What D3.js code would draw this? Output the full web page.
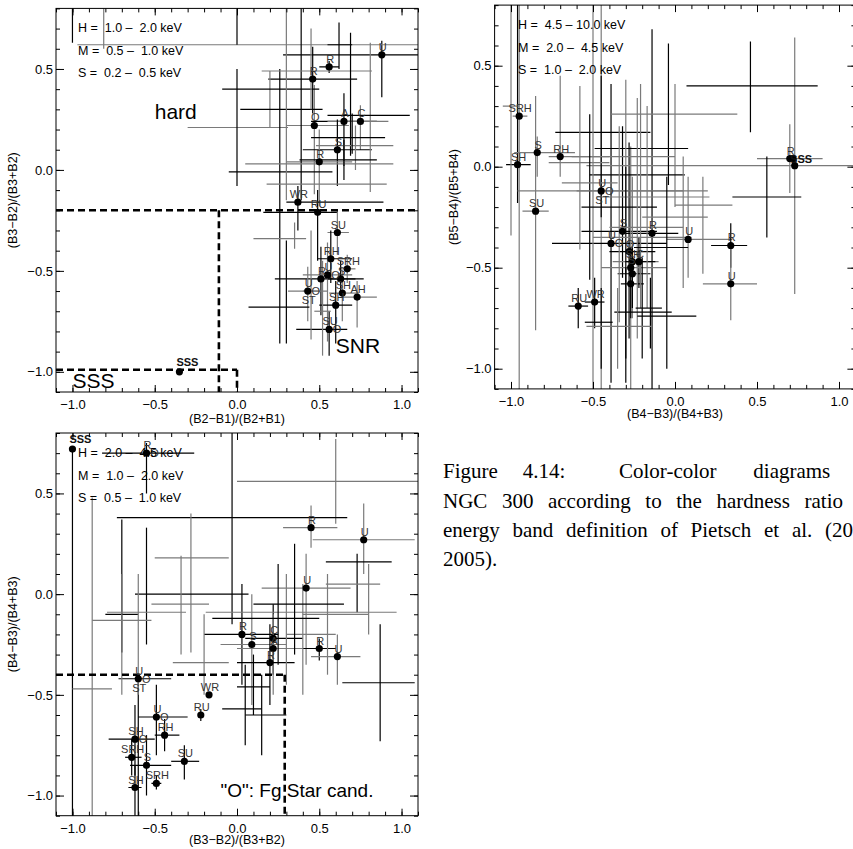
<!DOCTYPE html>
<html><head><meta charset="utf-8">
<script src="https://cdnjs.cloudflare.com/ajax/libs/d3/7.8.5/d3.min.js"></script>
<style>body{margin:0;background:#fff}svg{display:block}</style>
</head><body>
<svg id="c" width="853" height="849"></svg>
<script>
// ---------------- data ----------------
const xMajorTicks = [-1.0, -0.5, 0.0, 0.5, 1.0];
const yMajorTicks = [-1.0, -0.5, 0.0, 0.5];
const xDomain = [-1.1, 1.1];
const yDomain = [-1.1, 0.8];

const xTitles = ["(B2\u2212B1)/(B2+B1)", "(B4\u2212B3)/(B4+B3)", "(B3\u2212B2)/(B3+B2)"];
const yTitles = ["(B3\u2212B2)/(B3+B2)", "(B5\u2212B4)/(B5+B4)", "(B4\u2212B3)/(B4+B3)"];

const legend1 = ["H =  1.0 \u2013  2.0 keV", "M =  0.5 \u2013  1.0 keV", "S =  0.2 \u2013  0.5 keV"];
const legend2 = ["H =  4.5 \u2013 10.0 keV", "M =  2.0 \u2013  4.5 keV", "S =  1.0 \u2013  2.0 keV"];
const legend3 = ["H =  2.0 \u2013  4.5 keV", "M =  1.0 \u2013  2.0 keV", "S =  0.5 \u2013  1.0 keV"];

// cx, cy, xlo, xhi, ylo, yhi, grey, dot, label (above|right|below)
const panel1Points = [
  [0.88, 0.57, 0.28, 1.20, 0.36, 0.64, 0, 1, "U"],
  [0.56, 0.51, 0.50, 0.62, 0.48, 0.54, 0, 1, "R"],
  [0.46, 0.45, 0.19, 0.73, 0.28, 0.61, 0, 1, "R"],
  [0.47, 0.22, 0.30, 0.68, -0.12, 0.42, 1, 1, "O"],
  [0.65, 0.24, 0.45, 0.85, 0.02, 0.38, 0, 1, "A"],
  [0.75, 0.24, 0.55, 0.92, 0.10, 0.32, 1, 1, "C"],
  [0.61, 0.10, 0.40, 0.82, -0.08, 0.25, 0, 1, "S"],
  [0.50, 0.04, 0.30, 0.70, -0.18, 0.20, 1, 1, "R"],
  [0.37, -0.16, 0.30, 0.89, -0.30, -0.08, 0, 1, "WR"],
  [0.49, -0.21, 0.16, 0.61, -0.45, -0.10, 0, 1, "RU"],
  [0.61, -0.31, 0.55, 0.68, -0.42, -0.20, 1, 1, "SU"],
  [0.57, -0.44, 0.49, 0.70, -0.56, -0.30, 0, 1, "RH"],
  [0.67, -0.49, 0.62, 0.72, -0.56, -0.42, 1, 1, "SRH"],
  [0.51, -0.54, 0.23, 0.77, -0.72, -0.38, 0, 1, "R"],
  [0.55, -0.52, 0.40, 0.70, -0.85, -0.36, 1, 1, "U|O"],
  [0.63, -0.54, 0.55, 0.72, -0.62, -0.45, 0, 1, "S"],
  [0.64, -0.61, 0.56, 0.74, -0.75, -0.50, 1, 1, "SH"],
  [0.73, -0.63, 0.63, 0.85, -0.78, -0.55, 1, 1, "AH"],
  [0.43, -0.60, 0.31, 0.55, -0.75, -0.48, 1, 1, "U|O|ST"],
  [0.60, -0.67, 0.50, 0.70, -0.86, -0.55, 0, 1, "SH"],
  [0.56, -0.79, 0.36, 0.67, -0.92, -0.70, 0, 1, "SU|O"],
  [-0.35, -1.00, -0.35, -0.35, -1.00, -1.00, 0, 1, "SSS"],
  [-0.81, 0.62, -0.97, 1.20, 0.60, 0.90, 1, 0, ""],
  [-1.00, 0.95, -1.20, -0.80, 0.63, 1.20, 0, 0, ""],
  [0.00, 0.95, -0.50, 0.50, 0.62, 1.20, 0, 0, ""],
  [0.20, 0.21, -0.30, 0.31, 0.21, 0.49, 1, 0, ""],
  [0.26, 0.30, 0.02, 0.52, -0.86, 0.50, 0, 0, ""],
  [0.39, 0.40, -0.09, 0.50, -0.15, 0.85, 0, 0, ""],
  [0.45, 0.49, 0.15, 0.82, 0.30, 0.70, 1, 0, ""],
  [0.00, -0.01, -0.05, 0.58, -0.08, 0.50, 0, 0, ""],
  [0.30, 0.03, 0.05, 0.95, -0.15, 0.85, 1, 0, ""],
  [0.81, -0.07, 0.18, 0.91, -0.11, 0.63, 1, 0, ""],
  [0.69, 0.27, 0.55, 1.05, 0.07, 0.68, 0, 0, ""],
  [0.62, 0.62, 0.55, 0.70, 0.50, 0.73, 0, 0, ""],
  [0.35, -0.34, 0.10, 0.42, -0.39, -0.26, 1, 0, ""],
  [0.30, -0.68, 0.07, 0.44, -0.86, -0.35, 0, 0, ""],
  [0.45, -0.60, 0.40, 0.50, -0.84, -0.30, 1, 0, ""],
  [0.52, -0.70, 0.47, 0.57, -0.92, -0.45, 1, 0, ""],
  [0.72, 0.12, 0.48, 0.95, 0.00, 0.22, 1, 0, ""],
  [0.65, 0.05, 0.38, 0.85, -0.05, 0.15, 0, 0, ""],
  [0.70, 0.16, 0.45, 0.90, 0.08, 0.28, 0, 0, ""]
];

const panel2Points = [
  [-0.95, 0.25, -0.99, -0.90, -1.20, 1.20, 1, 1, "SRH"],
  [-0.96, 0.01, -1.03, -0.88, -0.18, 1.20, 0, 1, "SH"],
  [-0.84, 0.07, -0.98, -0.61, -0.05, 0.15, 1, 1, "S"],
  [-0.70, 0.05, -0.77, -0.40, -0.05, 0.45, 1, 1, "RH"],
  [-0.45, -0.12, -0.96, 0.05, -1.20, 1.20, 1, 1, "U|O|ST"],
  [-0.85, -0.22, -0.93, -0.77, -0.81, 0.35, 1, 1, "SU"],
  [-0.32, -0.32, -0.57, -0.11, -0.55, 0.20, 0, 1, "S"],
  [-0.14, -0.33, -0.30, 0.02, -1.20, 0.68, 0, 1, "R"],
  [0.08, -0.36, -0.05, 0.35, -0.55, -0.05, 1, 1, "U"],
  [0.34, -0.39, 0.22, 0.44, -0.50, -0.28, 0, 1, "R"],
  [0.34, -0.58, 0.17, 0.50, -0.76, -0.38, 1, 1, "U"],
  [-0.39, -0.38, -0.75, -0.05, -1.07, 0.41, 0, 1, "U|O"],
  [-0.59, -0.69, -0.65, -0.53, -0.80, -0.60, 0, 1, "RU"],
  [-0.49, -0.67, -0.55, -0.43, -0.80, -0.55, 0, 1, "WR"],
  [-0.28, -0.42, -0.40, -0.12, -0.85, 0.12, 0, 1, "O"],
  [-0.26, -0.47, -0.38, -0.10, -0.75, -0.05, 1, 1, "SH"],
  [-0.22, -0.47, -0.30, -0.12, -0.60, -0.35, 0, 1, "C"],
  [-0.27, -0.50, -0.45, -0.05, -1.20, 0.10, 1, 1, "S"],
  [-0.26, -0.53, -0.35, -0.15, -0.70, -0.40, 0, 1, ""],
  [-0.27, -0.58, -0.33, -0.19, -0.75, -0.40, 0, 1, ""],
  [0.70, 0.04, 0.50, 0.90, -0.13, 0.21, 1, 1, "R"],
  [0.72, 0.04, 0.72, 0.72, 0.04, 0.04, 0, 1, "SSS"],
  [0.73, 0.005, -0.54, 1.20, -0.63, 0.64, 1, 1, ""],
  [0.46, 0.40, 0.07, 0.87, 0.17, 0.62, 0, 0, ""],
  [0.56, -0.15, 0.35, 0.77, -0.35, 0.05, 0, 0, ""],
  [0.00, 0.26, -0.39, 0.38, -0.20, 0.41, 1, 0, ""],
  [-0.45, 0.17, -0.73, -0.15, -0.25, 0.45, 0, 0, ""],
  [-0.04, 0.09, -0.49, 0.08, -0.09, 0.61, 0, 0, ""],
  [-0.30, 0.05, -0.63, 0.00, -0.30, 0.43, 1, 0, ""],
  [-0.58, 0.02, -0.77, -0.40, -0.41, 0.40, 1, 0, ""],
  [-0.52, -0.04, -0.52, 0.06, -0.56, 0.26, 0, 0, ""],
  [-0.50, -0.08, -0.69, -0.35, -1.20, 1.20, 1, 0, ""],
  [-0.34, -0.12, -0.60, 0.20, -0.77, 0.20, 1, 0, ""],
  [-0.17, -0.15, -0.48, 0.21, -0.70, 0.30, 1, 0, ""],
  [-0.30, -0.20, -0.57, -0.11, -1.07, 0.00, 0, 0, ""],
  [0.05, -0.25, -0.20, 0.20, -0.60, 0.05, 1, 0, ""],
  [-0.21, -0.30, -0.40, 0.05, -0.70, 0.41, 1, 0, ""],
  [-0.23, -0.35, -0.50, 0.10, -0.85, 0.34, 1, 0, ""],
  [-0.05, -0.40, -0.25, 0.08, -1.00, -0.05, 0, 0, ""],
  [0.17, -0.19, 0.00, 0.35, -0.53, -0.05, 1, 0, ""],
  [-0.20, -0.70, -0.24, -0.08, -0.95, -0.45, 0, 0, ""],
  [-0.30, -0.72, -0.37, -0.02, -0.95, -0.50, 0, 0, ""],
  [-0.15, -0.74, -0.23, 0.13, -0.90, -0.55, 0, 0, ""],
  [-0.45, -0.77, -0.55, -0.38, -1.00, -0.60, 0, 0, ""],
  [-0.35, -0.79, -0.54, -0.14, -1.00, -0.60, 1, 0, ""],
  [-1.00, 0.30, -1.05, -0.95, -0.34, 1.20, 1, 0, ""]
];

const panel3Points = [
  [-1.00, 0.72, -1.00, -1.00, -1.20, 0.72, 0, 1, "SSS"],
  [-0.55, 0.70, -0.82, -0.26, 0.50, 0.75, 0, 1, "R|O"],
  [0.45, 0.33, 0.28, 0.61, 0.23, 0.44, 1, 1, "R"],
  [0.77, 0.27, 0.46, 1.08, 0.10, 0.45, 1, 1, "U"],
  [0.42, 0.03, 0.15, 0.69, -0.35, 0.20, 1, 1, "U"],
  [0.03, -0.20, -0.20, 0.25, -0.45, 0.05, 0, 1, "R"],
  [0.09, -0.25, -0.10, 0.30, -0.55, 0.00, 1, 1, "S"],
  [0.22, -0.22, 0.05, 0.40, -0.40, -0.05, 0, 1, "C"],
  [0.22, -0.27, 0.00, 0.45, -0.50, -0.10, 1, 1, "A"],
  [0.20, -0.34, 0.00, 0.35, -0.55, -0.15, 0, 1, "R"],
  [0.50, -0.27, 0.40, 0.60, -0.33, -0.22, 0, 1, "R"],
  [0.61, -0.31, 0.45, 0.75, -0.45, -0.20, 1, 1, "U"],
  [-0.60, -0.42, -0.72, -0.40, -1.20, -0.40, 0, 1, "U|O|ST"],
  [-0.17, -0.50, -0.17, -0.17, -0.50, -0.50, 0, 1, "WR"],
  [-0.22, -0.60, -0.23, -0.21, -0.63, -0.57, 0, 1, "RU"],
  [-0.49, -0.61, -0.60, -0.30, -0.80, -0.45, 0, 1, "U|O"],
  [-0.44, -0.70, -0.50, -0.35, -0.78, -0.62, 0, 1, "RH"],
  [-0.62, -0.72, -0.78, -0.50, -0.90, -0.55, 0, 1, "SH|O"],
  [-0.64, -0.81, -0.68, -0.58, -0.90, -0.72, 0, 1, "SRH"],
  [-0.55, -0.85, -0.65, -0.40, -1.00, -0.70, 0, 1, "S"],
  [-0.32, -0.83, -0.40, -0.23, -0.92, -0.75, 0, 1, "SU"],
  [-0.49, -0.94, -0.52, -0.46, -0.97, -0.90, 0, 1, "SRH"],
  [-0.62, -0.96, -0.66, -0.58, -1.10, -0.85, 0, 1, "SH"],
  [0.60, 0.56, 0.00, 1.20, 0.35, 0.77, 1, 0, ""],
  [-0.03, 0.38, -0.73, 0.67, -0.15, 0.85, 0, 0, ""],
  [-0.28, 0.18, -0.50, -0.05, -0.29, 0.40, 1, 0, ""],
  [-0.70, -0.10, -0.80, -0.60, -0.29, 0.37, 0, 0, ""],
  [-0.55, 0.00, -0.62, 0.07, -0.25, 0.33, 0, 0, ""],
  [-0.88, -0.47, -1.00, -0.76, -1.20, 0.48, 1, 0, ""],
  [-0.34, -0.05, -0.52, -0.17, -0.30, 0.19, 1, 0, ""],
  [-0.60, -0.09, -0.79, -0.31, -0.50, 0.10, 1, 0, ""],
  [0.73, 0.16, 0.54, 0.94, -0.09, 0.20, 0, 0, ""],
  [0.80, 0.05, 0.54, 0.87, -0.20, 0.15, 1, 0, ""],
  [0.87, -0.44, 0.64, 1.08, -0.73, -0.15, 0, 0, ""],
  [0.30, -0.09, -0.19, 0.97, -0.45, 0.10, 1, 0, ""],
  [-0.70, -0.13, -0.88, -0.52, -0.50, 0.10, 1, 0, ""],
  [-0.20, -0.34, -0.39, -0.05, -0.50, -0.10, 1, 0, ""],
  [0.05, -0.57, -0.09, 0.15, -0.75, -0.35, 0, 0, ""],
  [0.15, -0.60, 0.05, 0.30, -0.80, -0.40, 0, 0, ""],
  [0.10, -0.46, 0.00, 0.20, -0.60, -0.30, 0, 0, ""],
  [0.40, -0.20, 0.30, 0.60, -0.50, 0.05, 1, 0, ""],
  [0.55, -0.10, 0.40, 0.80, -0.40, 0.10, 1, 0, ""],
  [0.35, -0.05, 0.10, 0.65, -0.30, 0.25, 0, 0, ""],
  [0.25, -0.12, -0.15, 0.50, -0.35, 0.15, 0, 0, ""]
];

// dashed region boundaries [x1, y1, x2, y2]
const panel1Dashes = [[-1.1, -0.2, 1.1, -0.2], [-0.11, -0.2, -0.11, -1.1], [-1.1, -0.99, 0.0, -0.99], [0.0, -0.99, 0.0, -1.1]];
const panel2Dashes = [];
const panel3Dashes = [[-1.1, -0.40, 0.29, -0.40], [0.29, -0.40, 0.29, -1.1]];

const panel1Notes = [["hard", -0.50, 0.25], ["SNR", 0.60, -0.905], ["SSS", -1.0, -1.08]];
const panel2Notes = [];
const panel3Notes = [["\"O\": Fg Star cand.", -0.10, -1.007]];

const captionLines = [
  ["Figure", "4.14:", "Color-color", "diagrams"],
  ["NGC", "300", "according", "to", "the", "hardness", "ratio"],
  ["energy", "band", "definition", "of", "Pietsch", "et", "al.", "(2004,"],
  ["2005)."]
];

// ---------------- drawing ----------------
const svg = d3.select("#c");
const SANS = "'Liberation Sans', Arial, Helvetica, sans-serif";
const GREY = "#7a7a7a";

const panels = [
  {pts: panel1Points, xr: [56, 418], yr: [392, 8.4], xt: xTitles[0], yt: yTitles[0], leg: legend1, dash: panel1Dashes, notes: panel1Notes, noteSize: [21, 21, 21], xtY: 419, ytX: 13, legX: 78, sss: "ar"},
  {pts: panel2Points, xr: [494.6, 855.4], yr: [388.9, 5.1], xt: xTitles[1], yt: yTitles[1], leg: legend2, dash: panel2Dashes, notes: panel2Notes, noteSize: [], xtY: 414, ytX: 454, legX: 518, sss: "r"},
  {pts: panel3Points, xr: [56, 418], yr: [815.7, 433], xt: xTitles[2], yt: yTitles[2], leg: legend3, dash: panel3Dashes, notes: panel3Notes, noteSize: [19], xtY: 840, ytX: 13, legX: 78, sss: "ar"}
];

panels.forEach((P, i) => {
  const x = d3.scaleLinear().domain(xDomain).range(P.xr);
  const y = d3.scaleLinear().domain(yDomain).range(P.yr);
  const g = svg.append("g");
  const x0 = P.xr[0], x1 = P.xr[1], yb = P.yr[0], yt = P.yr[1];
  const cid = "clip" + i;
  svg.append("clipPath").attr("id", cid).append("rect")
    .attr("x", x0).attr("y", yt).attr("width", x1 - x0).attr("height", yb - yt);
  const plot = g.append("g").attr("clip-path", `url(#${cid})`);

  P.pts.forEach(d => {
    const col = d[6] ? GREY : "#000";
    if (d[3] > d[2]) plot.append("line").attr("x1", x(d[2])).attr("x2", x(d[3]))
      .attr("y1", y(d[1])).attr("y2", y(d[1])).attr("stroke", col).attr("stroke-width", 1.2);
    if (d[5] > d[4]) plot.append("line").attr("x1", x(d[0])).attr("x2", x(d[0]))
      .attr("y1", y(d[4])).attr("y2", y(d[5])).attr("stroke", col).attr("stroke-width", 1.2);
  });

  P.dash.forEach(d => {
    plot.append("line").attr("x1", x(d[0])).attr("y1", y(d[1])).attr("x2", x(d[2])).attr("y2", y(d[3]))
      .attr("stroke", "#000").attr("stroke-width", 2.6).attr("stroke-dasharray", "7,4");
  });

  P.pts.filter(d => d[7]).forEach(d => {
    plot.append("circle").attr("cx", x(d[0])).attr("cy", y(d[1])).attr("r", 3.6).attr("fill", "#000");
  });

  P.pts.filter(d => d[8]).forEach(d => {
    const px = x(d[0]), py = y(d[1]);
    if (d[8] === "SSS") {
      const t = g.append("text").text("SSS").attr("font-family", SANS).attr("font-size", 11)
        .attr("font-weight", "bold").attr("fill", "#111");
      if (P.sss === "r") t.attr("x", px - 3).attr("y", py + 4).attr("text-anchor", "start");
      else t.attr("x", px + 8).attr("y", py - 6).attr("text-anchor", "middle");
      return;
    }
    const parts = d[8].split("|");
    const pos = [[1, -4], [8, 4], [1, 13]];
    parts.forEach((s, k) => {
      if (!s) return;
      g.append("text").text(s).attr("x", px + pos[k][0]).attr("y", py + pos[k][1])
        .attr("text-anchor", "middle").attr("font-family", SANS).attr("font-size", 11).attr("fill", "#333");
    });
  });

  g.append("rect").attr("x", x0).attr("y", yt).attr("width", x1 - x0).attr("height", yb - yt)
    .attr("fill", "none").attr("stroke", "#000").attr("stroke-width", 1);

  const fmt = d3.format(".1f");
  const xMinor = d3.range(-11, 12).map(v => v / 10);
  const yMinor = d3.range(-11, 9).map(v => v / 10);
  const styleAxis = sel => { sel.select(".domain").remove(); sel.selectAll("line").attr("stroke", "#000"); };
  g.append("g").attr("transform", `translate(0,${yb})`)
    .call(d3.axisBottom(x).tickValues(xMinor).tickSize(-4).tickFormat("")).call(styleAxis);
  g.append("g").attr("transform", `translate(0,${yb})`)
    .call(d3.axisBottom(x).tickValues(xMajorTicks).tickSize(-7).tickPadding(8).tickFormat(fmt)).call(styleAxis)
    .selectAll("text").attr("font-family", SANS).attr("font-size", 13).attr("fill", "#000");
  g.append("g").attr("transform", `translate(0,${yt})`)
    .call(d3.axisTop(x).tickValues(xMinor).tickSize(-4).tickFormat("")).call(styleAxis);
  g.append("g").attr("transform", `translate(0,${yt})`)
    .call(d3.axisTop(x).tickValues(xMajorTicks).tickSize(-7).tickFormat("")).call(styleAxis);
  g.append("g").attr("transform", `translate(${x0},0)`)
    .call(d3.axisLeft(y).tickValues(yMinor).tickSize(-4).tickFormat("")).call(styleAxis);
  g.append("g").attr("transform", `translate(${x0},0)`)
    .call(d3.axisLeft(y).tickValues(yMajorTicks).tickSize(-8).tickPadding(3).tickFormat(fmt)).call(styleAxis)
    .selectAll("text").attr("font-family", SANS).attr("font-size", 13).attr("fill", "#000");
  g.append("g").attr("transform", `translate(${x1},0)`)
    .call(d3.axisRight(y).tickValues(yMinor).tickSize(-4).tickFormat("")).call(styleAxis);
  g.append("g").attr("transform", `translate(${x1},0)`)
    .call(d3.axisRight(y).tickValues(yMajorTicks).tickSize(-8).tickFormat("")).call(styleAxis);

  g.append("text").text(P.xt).attr("x", (x0 + x1) / 2).attr("y", P.xtY).attr("dy", "0.35em")
    .attr("text-anchor", "middle").attr("font-family", SANS).attr("font-size", 12.5);
  g.append("text").text(P.yt).attr("transform", `translate(${P.ytX},${(yb + yt) / 2}) rotate(-90)`)
    .attr("dy", "0.35em").attr("text-anchor", "middle").attr("font-family", SANS).attr("font-size", 12.5);

  P.leg.forEach((s, k) => {
    g.append("text").text(s).attr("x", P.legX).attr("y", yt + 24 + k * 22.5)
      .attr("font-family", SANS).attr("font-size", 12.5).attr("fill", "#000").style("white-space", "pre");
  });

  P.notes.forEach((n, k) => {
    g.append("text").text(n[0]).attr("x", x(n[1])).attr("y", y(n[2]))
      .attr("font-family", SANS).attr("font-size", P.noteSize[k]).attr("fill", "#000");
  });
});

// caption: justified lines (first word start, last word start/end given in pixels)
const capY = [478, 507.5, 537, 566];
const capLineSpan = [[443, 619, 753.3], [443, null, 843], [443, null, 825]];
const SERIF = "'Liberation Serif', 'Times New Roman', serif";
captionLines.forEach((words, li) => {
  const nodes = words.map(w => svg.append("text").text(w).attr("y", capY[li])
    .attr("font-family", SERIF).attr("font-size", 21).attr("fill", "#000"));
  const widths = nodes.map(n => n.node().getComputedTextLength());
  if (li === 0) {
    // "Figure 4.14:" then wider gap after the colon
    const gap1 = 25;
    nodes[0].attr("x", 443);
    nodes[1].attr("x", 443 + widths[0] + gap1);
    nodes[2].attr("x", 619);
    nodes[3].attr("x", 753.3);
  } else if (li === 1) {
    const total = d3.sum(widths);
    const gap = (843 - 443 - total) / (words.length - 1);
    let cx = 443;
    nodes.forEach((n, k) => { n.attr("x", cx); cx += widths[k] + gap; });
  } else if (li === 2) {
    const total = d3.sum(widths.slice(0, -1));
    const gap = (825 - 443 - total) / (words.length - 1);
    let cx = 443;
    nodes.forEach((n, k) => { n.attr("x", cx); cx += widths[k] + gap; });
  } else {
    nodes[0].attr("x", 443);
  }
});
</script>
</body></html>
